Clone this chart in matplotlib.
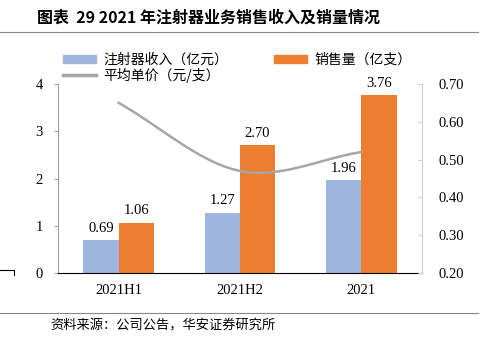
import numpy as np
import matplotlib.pyplot as plt
from matplotlib.lines import Line2D

plt.rcParams['font.family'] = ['Noto Sans CJK SC', 'DejaVu Sans']

# data
categories = ['2021H1', '2021H2', '2021']
revenue = [0.69, 1.27, 1.96]      # 注射器收入（亿元）
volume = [1.06, 2.70, 3.76]       # 销售量（亿支）
price = [0.65, 0.47, 0.52]        # 平均单价（元/支）

blue = '#9EB5E0'
orange = '#ED7D31'
gray = '#A6A6A6'
serif = ['Liberation Serif', 'DejaVu Serif']


def catmull_rom(xs, ys, n=40):
    # smooth curve through the points, like office charts do
    xs = np.asarray(xs, float)
    ys = np.asarray(ys, float)
    px = np.concatenate([[2 * xs[0] - xs[1]], xs, [2 * xs[-1] - xs[-2]]])
    py = np.concatenate([[2 * ys[0] - ys[1]], ys, [2 * ys[-1] - ys[-2]]])
    outx, outy = [], []
    for i in range(1, len(px) - 2):
        t = np.linspace(0, 1, n)
        for p, out in ((px, outx), (py, outy)):
            p0, p1, p2, p3 = p[i - 1], p[i], p[i + 1], p[i + 2]
            out.extend(0.5 * (2 * p1 + (-p0 + p2) * t
                              + (2 * p0 - 5 * p1 + 4 * p2 - p3) * t ** 2
                              + (-p0 + 3 * p1 - 3 * p2 + p3) * t ** 3))
    return np.array(outx), np.array(outy)


fig = plt.figure(figsize=(4.88, 3.38), dpi=100)
ax = fig.add_axes([58 / 488, 1 - 273 / 338, 364 / 488, 189 / 338])
ax2 = ax.twinx()

x = np.arange(len(categories))
w = 0.29
b1 = ax.bar(x - w / 2, revenue, w, color=blue, zorder=2)
b2 = ax.bar(x + w / 2, volume, w, color=orange, zorder=2)
for bars, vals in ((b1, revenue), (b2, volume)):
    for r, v in zip(bars, vals):
        ax.annotate(f'{v:.2f}', (r.get_x() + r.get_width() / 2, v),
                    xytext=(0, 4), textcoords='offset points',
                    ha='center', va='bottom', fontsize=10.5, family=serif)

sx, sy = catmull_rom(x, price)
ax2.plot(sx, sy, color=gray, lw=1.8)

ax.set_xlim(-0.5, 2.5)
ax.set_ylim(0, 4)
ax.set_yticks([0, 1, 2, 3, 4])
ax2.set_ylim(0.2, 0.7)
ax2.set_yticks([0.2, 0.3, 0.4, 0.5, 0.6, 0.7])
ax2.set_yticklabels([f'{v:.2f}' for v in ax2.get_yticks()])
ax.set_xticks(x)
ax.set_xticklabels(categories)

for a in (ax, ax2):
    for lab in a.get_xticklabels() + a.get_yticklabels():
        lab.set_fontfamily(serif)
        lab.set_fontsize(10.5)
    a.spines['top'].set_visible(False)

ax.spines['right'].set_visible(False)
ax.spines['left'].set_color('#A0A0A0')
ax.spines['bottom'].set_color('black')
ax2.spines['left'].set_visible(False)
ax2.spines['bottom'].set_visible(False)
ax2.spines['right'].set_color('#D0D0D0')
ax.tick_params(axis='x', length=0, pad=8)
ax.tick_params(axis='y', length=3, color='#A0A0A0', pad=8)
ax2.tick_params(axis='y', length=3, direction='in', color='#D0D0D0', pad=12)

# legend (column-major fill: blue, gray | orange)
handles = [plt.Rectangle((0, 0), 1, 1, color=blue),
           Line2D([0], [0], color=gray, lw=2.5),
           plt.Rectangle((0, 0), 1, 1, color=orange)]
labels = ['注射器收入（亿元）', '平均单价（元/支）', '销售量（亿支）']
fig.legend(handles, labels, ncol=2, loc='upper left',
           bbox_to_anchor=(53 / 488, 1 - 43 / 338), frameon=False,
           fontsize=10, handlelength=2.4, handleheight=0.55,
           columnspacing=3.3, labelspacing=0.05, handletextpad=0.5,
           borderpad=0.2)

# title, rules and source
fig.text(37 / 488, 1 - 18 / 338, '图表  29 2021 年注射器业务销售收入及销量情况',
         fontsize=11.5, fontweight='bold', va='center', ha='left')
fig.add_artist(Line2D([0, 478 / 488], [1 - 32 / 338] * 2, color='#888888', lw=0.8))
fig.add_artist(Line2D([0, 478 / 488], [1 - 313 / 338] * 2, color='#888888', lw=0.8))
fig.text(50 / 488, 1 - 326 / 338, '资料来源：公司公告，华安证券研究所',
         fontsize=9.5, va='center', ha='left')

# small stray mark bottom-left
fig.add_artist(Line2D([0, 14 / 488, 14 / 488],
                      [1 - 270 / 338, 1 - 270 / 338, 1 - 275 / 338],
                      color='black', lw=0.8))

fig.savefig('out.png', dpi=100)
